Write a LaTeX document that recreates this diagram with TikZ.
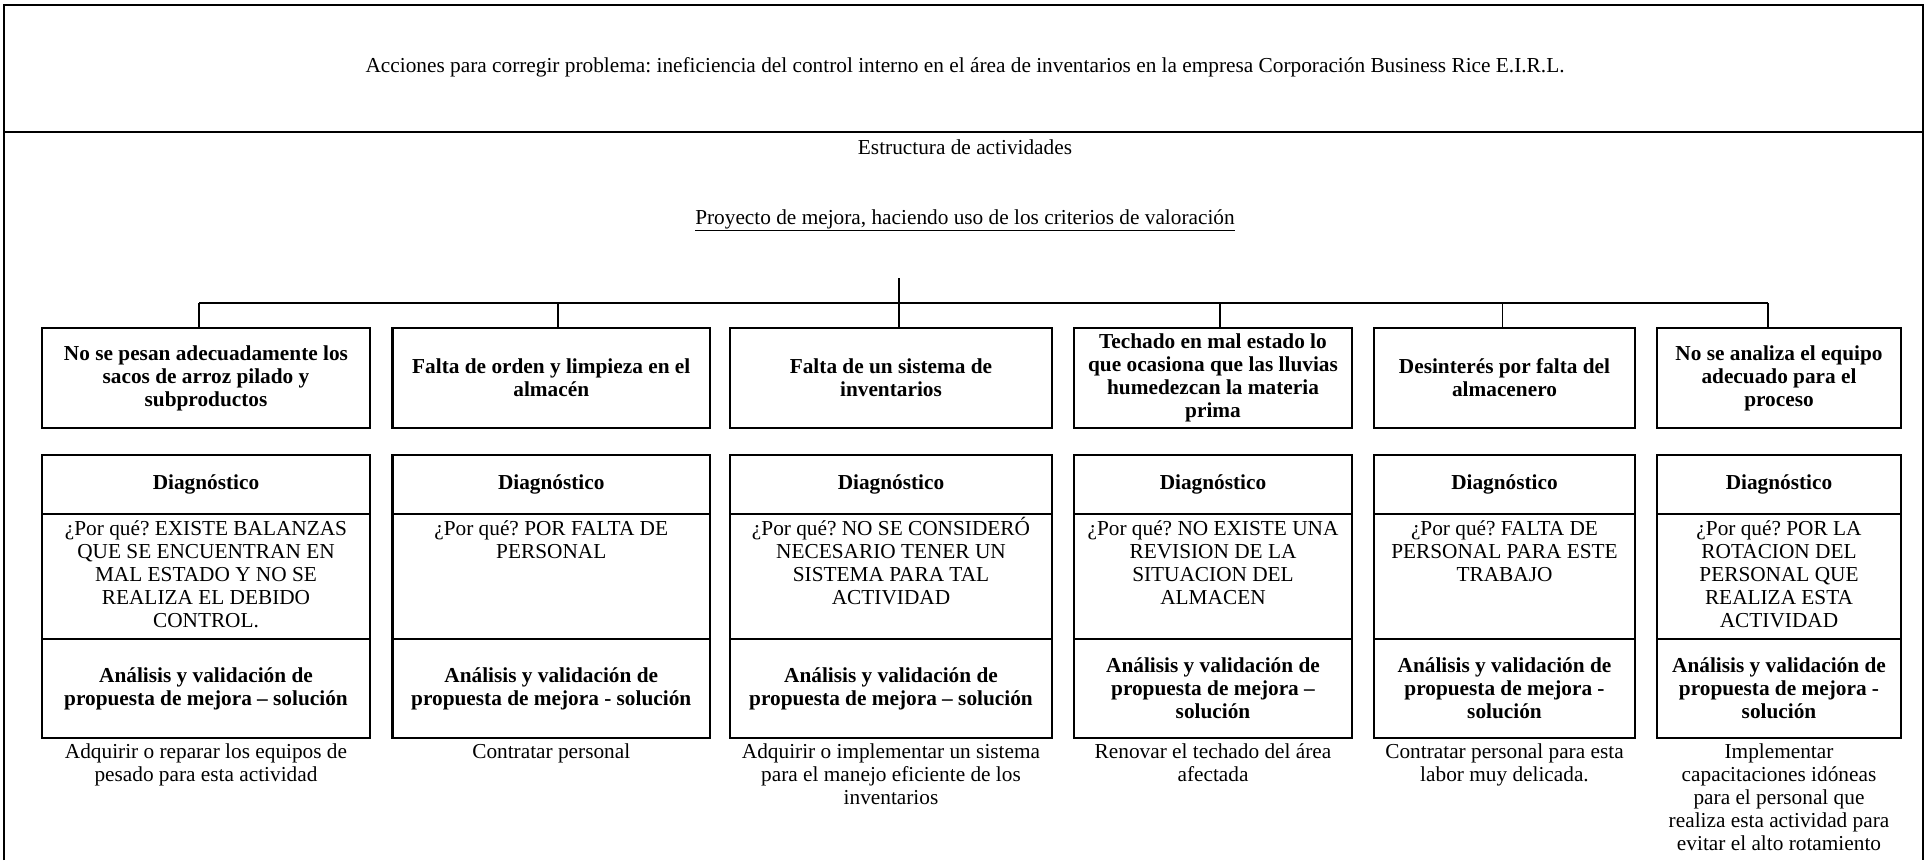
\documentclass[tikz,border=0pt]{standalone}
\usepackage{fontspec}
\setmainfont{Liberation Serif}
\usetikzlibrary{calc}
\frenchspacing
\begin{document}
\frenchspacing
\begin{tikzpicture}[x=1pt,y=-1pt,
  every node/.style={font=\fontsize{21.3}{23}\selectfont, inner sep=0pt},
  frame/.style={line width=2pt},
  link/.style={line width=1.8pt},
  causebox/.style={draw, line width=2.2pt, align=center, font=\fontsize{21.3}{23}\selectfont\bfseries, minimum height=100},
  hdrbox/.style={draw, line width=2.2pt, align=center, font=\fontsize{21.3}{23}\selectfont\bfseries, minimum height=59},
  whybox/.style={draw, line width=2.2pt, minimum height=125},
  anlbox/.style={draw, line width=2.2pt, align=center, font=\fontsize{21.3}{23}\selectfont\bfseries, minimum height=99},
  soltext/.style={anchor=north, align=center}
]
\useasboundingbox (0,0) rectangle (1927,860);
% frame
\draw[frame] (4,860) -- (4,5) -- (1923,5) -- (1923,860);
\draw[frame] (4,132) -- (1923,132);
\node (title) at (965,67) {Acciones para corregir problema: ineficiencia del control interno en el área de inventarios en la empresa Corporación Business Rice E.I.R.L.};
\node (estr) at (965,147) {Estructura de actividades};
\node (proy) at (965,220) {\underline{Proyecto de mejora, haciendo uso de los criterios de valoración}};

% row 1
\node[causebox, minimum width=328] (c1) at (206,378) {No se pesan adecuadamente los\\sacos de arroz pilado y\\subproductos};
\node[causebox, minimum width=317.5] (c2) at (551.25,378) {Falta de orden y limpieza en el\\almacén};
\node[causebox, minimum width=322] (c3) at (891,378) {Falta de un sistema de\\inventarios};
\node[causebox, minimum width=278] (c4) at (1213,378) {Techado en mal estado lo\\que ocasiona que las lluvias\\humedezcan la materia\\prima};
\node[causebox, minimum width=261] (c5) at (1504.5,378) {Desinterés por falta del\\almacenero};
\node[causebox, minimum width=244] (c6) at (1779,378) {No se analiza el equipo\\adecuado para el\\proceso};

% connectors
\coordinate (top) at (899,278);
\coordinate (j1) at (199,303);
\coordinate (j2) at (558,303);
\coordinate (j3) at (899,303);
\coordinate (j4) at (1220,303);
\coordinate (j5) at (1502.5,303);
\coordinate (j6) at (1768,303);
\draw[link] (top) -- (j3);
\draw[link] (j1) -- (j6);
\draw[link] (j1) -- (j1 |- c1.north);
\draw[link] (j2) -- (j2 |- c2.north);
\draw[link] (j3) -- (j3 |- c3.north);
\draw[link] (j4) -- (j4 |- c4.north);
\draw[link] (j5) -- (j5 |- c5.north);
\draw[link] (j6) -- (j6 |- c6.north);

% row 2 headers
\node[hdrbox, minimum width=328] (d1) at (206,484.5) {Diagnóstico};
\node[hdrbox, minimum width=317.5] (d2) at (551.25,484.5) {Diagnóstico};
\node[hdrbox, minimum width=322] (d3) at (891,484.5) {Diagnóstico};
\node[hdrbox, minimum width=278] (d4) at (1213,484.5) {Diagnóstico};
\node[hdrbox, minimum width=261] (d5) at (1504.5,484.5) {Diagnóstico};
\node[hdrbox, minimum width=244] (d6) at (1779,484.5) {Diagnóstico};

% row 2 why
\node[whybox, minimum width=328] (w1) at (206,576.5) {\parbox[c][120pt][t]{320pt}{\centering\rule{0pt}{19pt}¿Por qué? EXISTE BALANZAS\\QUE SE ENCUENTRAN EN\\MAL ESTADO Y NO SE\\REALIZA EL DEBIDO\\CONTROL.}};
\node[whybox, minimum width=317.5] (w2) at (551.25,576.5) {\parbox[c][120pt][t]{310pt}{\centering\rule{0pt}{19pt}¿Por qué? POR FALTA DE\\PERSONAL}};
\node[whybox, minimum width=322] (w3) at (891,576.5) {\parbox[c][120pt][t]{316pt}{\centering\rule{0pt}{19pt}¿Por qué? NO SE CONSIDERÓ\\NECESARIO TENER UN\\SISTEMA PARA TAL\\ACTIVIDAD}};
\node[whybox, minimum width=278] (w4) at (1213,576.5) {\parbox[c][120pt][t]{272pt}{\centering\rule{0pt}{19pt}¿Por qué? NO EXISTE UNA\\REVISION DE LA\\SITUACION DEL\\ALMACEN}};
\node[whybox, minimum width=261] (w5) at (1504.5,576.5) {\parbox[c][120pt][t]{256pt}{\centering\rule{0pt}{19pt}¿Por qué? FALTA DE\\PERSONAL PARA ESTE\\TRABAJO}};
\node[whybox, minimum width=244] (w6) at (1779,576.5) {\parbox[c][120pt][t]{240pt}{\centering\rule{0pt}{19pt}¿Por qué? POR LA\\ROTACION DEL\\PERSONAL QUE\\REALIZA ESTA\\ACTIVIDAD}};

% row 2 analysis
\node[anlbox, minimum width=328] (a1) at (206,688.5) {Análisis y validación de\\propuesta de mejora – solución};
\node[anlbox, minimum width=317.5] (a2) at (551.25,688.5) {Análisis y validación de\\propuesta de mejora - solución};
\node[anlbox, minimum width=322] (a3) at (891,688.5) {Análisis y validación de\\propuesta de mejora – solución};
\node[anlbox, minimum width=278] (a4) at (1213,688.5) {Análisis y validación de\\propuesta de mejora –\\solución};
\node[anlbox, minimum width=261] (a5) at (1504.5,688.5) {Análisis y validación de\\propuesta de mejora -\\solución};
\node[anlbox, minimum width=244] (a6) at (1779,688.5) {Análisis y validación de\\propuesta de mejora -\\solución};

% solutions
\node[soltext] (s1) at ($(a1.south)+(0,4)$) {Adquirir o reparar los equipos de\\pesado para esta actividad};
\node[soltext] (s2) at ($(a2.south)+(0,4)$) {Contratar personal};
\node[soltext] (s3) at ($(a3.south)+(0,4)$) {Adquirir o implementar un sistema\\para el manejo eficiente de los\\inventarios};
\node[soltext] (s4) at ($(a4.south)+(0,4)$) {Renovar el techado del área\\afectada};
\node[soltext] (s5) at ($(a5.south)+(0,4)$) {Contratar personal para esta\\labor muy delicada.};
\node[soltext] (s6) at ($(a6.south)+(0,4)$) {Implementar\\capacitaciones idóneas\\para el personal que\\realiza esta actividad para\\evitar el alto rotamiento};
\end{tikzpicture}
\end{document}
